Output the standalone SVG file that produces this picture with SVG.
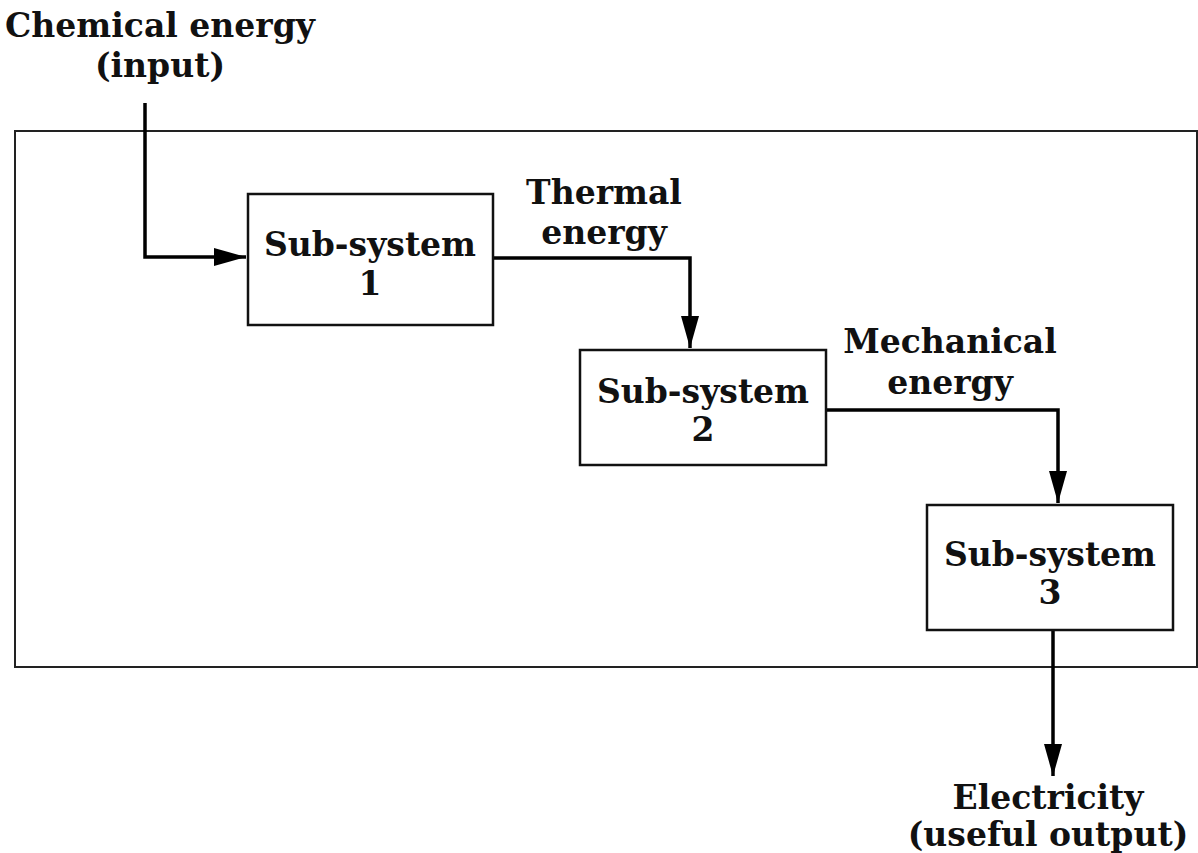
<svg xmlns="http://www.w3.org/2000/svg" width="1198" height="853" viewBox="0 0 1198 853">
<defs>
<style>
text{font-family:"DejaVu Serif","Liberation Serif",serif;font-weight:bold;font-size:33px;fill:#111;text-anchor:middle}
.box{fill:#fff;stroke:#111;stroke-width:2.5}
.frame{fill:none;stroke:#222;stroke-width:2}
.conn{fill:none;stroke:#000;stroke-width:3.5}
</style>
<marker id="ah" markerUnits="userSpaceOnUse" markerWidth="32" markerHeight="20" refX="32" refY="10" orient="auto">
<path d="M0,1 L32,10 L0,19 Z" fill="#000"/>
</marker>
</defs>
<rect width="1198" height="853" fill="#fff"/>
<g id="system-boundary"><rect class="frame" x="15" y="131" width="1182" height="536"/></g>
<g id="connectors">
<path class="conn" d="M145,103 V257 H246" marker-end="url(#ah)"/>
<path class="conn" d="M493,258 H690 V348" marker-end="url(#ah)"/>
<path class="conn" d="M826,410 H1058 V503" marker-end="url(#ah)"/>
<path class="conn" d="M1053,630 V776" marker-end="url(#ah)"/>
</g>
<g id="input-label"><text x="160" y="37">Chemical energy</text><text x="160" y="77">(input)</text></g>
<g id="sub1"><rect class="box" x="248" y="194" width="245" height="131"/><text x="370" y="256">Sub-system</text><text x="370" y="295">1</text></g>
<g id="thermal-label"><text x="604" y="204">Thermal</text><text x="604" y="244">energy</text></g>
<g id="sub2"><rect class="box" x="580" y="350" width="246" height="115"/><text x="703" y="403">Sub-system</text><text x="703" y="441">2</text></g>
<g id="mech-label"><text x="950" y="353">Mechanical</text><text x="950" y="394">energy</text></g>
<g id="sub3"><rect class="box" x="927" y="505" width="246" height="125"/><text x="1050" y="566">Sub-system</text><text x="1050" y="604">3</text></g>
<g id="output-label"><text x="1048" y="809">Electricity</text><text x="1048" y="846">(useful output)</text></g>
</svg>
